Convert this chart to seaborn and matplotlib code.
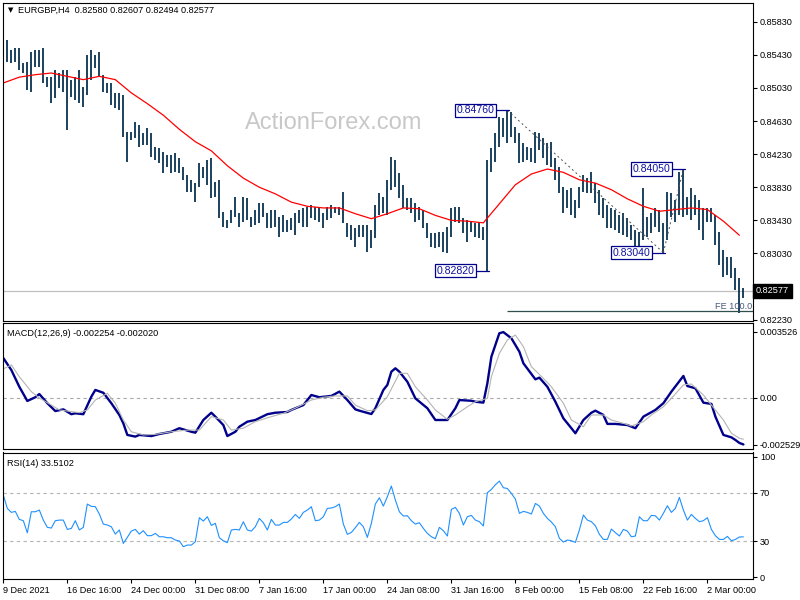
import numpy as np
import pandas as pd
import matplotlib
matplotlib.use("Agg")
import matplotlib.pyplot as plt
import matplotlib.transforms as mtransforms
import seaborn as sns

# ---------------- data ----------------
# H4 bars, two source bars merged per entry
high = [
    0.8586, 0.8561, 0.8549, 0.8551, 0.8551, 0.8533, 0.8534, 0.8546, 0.8549, 0.8549,
    0.8551, 0.8516, 0.8516, 0.8525, 0.8521, 0.8525, 0.8525, 0.8513, 0.8516, 0.8525,
    0.8504, 0.8543, 0.8549, 0.8543, 0.8546, 0.8519, 0.8509, 0.8509, 0.8497, 0.8497,
    0.8494, 0.8450, 0.8450, 0.8462, 0.8458, 0.8449, 0.8455, 0.8449, 0.8432, 0.8430,
    0.8426, 0.8422, 0.8422, 0.8424, 0.8418, 0.8408, 0.8398, 0.8392, 0.8388, 0.8412,
    0.8408, 0.8416, 0.8418, 0.8389, 0.8392, 0.8353, 0.8343, 0.8356, 0.8371, 0.8352,
    0.8371, 0.8370, 0.8347, 0.8356, 0.8364, 0.8364, 0.8352, 0.8356, 0.8356, 0.8347,
    0.8350, 0.8343, 0.8346, 0.8352, 0.8356, 0.8358, 0.8359, 0.8362, 0.8359, 0.8358,
    0.8352, 0.8359, 0.8362, 0.8359, 0.8359, 0.8377, 0.8340, 0.8337, 0.8334, 0.8337,
    0.8337, 0.8337, 0.8331, 0.8362, 0.8376, 0.8371, 0.8392, 0.8420, 0.8416, 0.8400,
    0.8386, 0.8370, 0.8370, 0.8364, 0.8359, 0.8356, 0.8340, 0.8328, 0.8328, 0.8329,
    0.8329, 0.8335, 0.8358, 0.8359, 0.8359, 0.8346, 0.8343, 0.8341, 0.8340, 0.8340,
    0.8335, 0.8416, 0.8430, 0.8449, 0.8468, 0.8467, 0.8476, 0.8474, 0.8456, 0.8449,
    0.8437, 0.8432, 0.8430, 0.8450, 0.8449, 0.8443, 0.8437, 0.8438, 0.8418, 0.8408,
    0.8383, 0.8380, 0.8382, 0.8368, 0.8383, 0.8398, 0.8394, 0.8401, 0.8388, 0.8380,
    0.8370, 0.8362, 0.8358, 0.8356, 0.8350, 0.8352, 0.8346, 0.8337, 0.8331, 0.8329,
    0.8382, 0.8347, 0.8352, 0.8358, 0.8356, 0.8340, 0.8377, 0.8376, 0.8368, 0.8401,
    0.8405, 0.8371, 0.8382, 0.8374, 0.8368, 0.8358, 0.8358, 0.8358, 0.8350, 0.8329,
    0.8307, 0.8299, 0.8299, 0.8286, 0.8273, 0.8261]
low = [
    0.8561, 0.8534, 0.8533, 0.8534, 0.8525, 0.8521, 0.8500, 0.8498, 0.8528, 0.8528,
    0.8509, 0.8504, 0.8485, 0.8491, 0.8503, 0.8498, 0.8452, 0.8492, 0.8488, 0.8485,
    0.8480, 0.8494, 0.8513, 0.8527, 0.8516, 0.8498, 0.8497, 0.8482, 0.8479, 0.8476,
    0.8444, 0.8414, 0.8440, 0.8443, 0.8432, 0.8434, 0.8434, 0.8420, 0.8416, 0.8412,
    0.8400, 0.8408, 0.8400, 0.8401, 0.8400, 0.8392, 0.8377, 0.8377, 0.8365, 0.8383,
    0.8394, 0.8386, 0.8370, 0.8371, 0.8346, 0.8335, 0.8334, 0.8340, 0.8347, 0.8335,
    0.8341, 0.8343, 0.8335, 0.8337, 0.8340, 0.8347, 0.8334, 0.8334, 0.8335, 0.8323,
    0.8329, 0.8329, 0.8331, 0.8325, 0.8340, 0.8335, 0.8335, 0.8346, 0.8343, 0.8341,
    0.8334, 0.8343, 0.8346, 0.8352, 0.8350, 0.8340, 0.8323, 0.8319, 0.8311, 0.8323,
    0.8323, 0.8305, 0.8310, 0.8322, 0.8350, 0.8352, 0.8350, 0.8380, 0.8383, 0.8370,
    0.8358, 0.8356, 0.8352, 0.8341, 0.8343, 0.8334, 0.8322, 0.8311, 0.8310, 0.8311,
    0.8305, 0.8304, 0.8323, 0.8341, 0.8340, 0.8328, 0.8317, 0.8329, 0.8323, 0.8322,
    0.8319, 0.8282, 0.8401, 0.8414, 0.8432, 0.8444, 0.8437, 0.8444, 0.8437, 0.8412,
    0.8414, 0.8416, 0.8414, 0.8412, 0.8428, 0.8418, 0.8410, 0.8408, 0.8392, 0.8376,
    0.8352, 0.8358, 0.8350, 0.8346, 0.8358, 0.8377, 0.8376, 0.8376, 0.8364, 0.8350,
    0.8346, 0.8334, 0.8334, 0.8331, 0.8328, 0.8325, 0.8323, 0.8319, 0.8310, 0.8307,
    0.8319, 0.8323, 0.8328, 0.8335, 0.8329, 0.8304, 0.8319, 0.8347, 0.8341, 0.8350,
    0.8347, 0.8350, 0.8343, 0.8350, 0.8331, 0.8319, 0.8341, 0.8341, 0.8313, 0.8289,
    0.8275, 0.8277, 0.8273, 0.8259, 0.8231, 0.8249]

# moving average, one reading every 4 bars
ma_step = 4
ma = [0.8509, 0.8516, 0.8519, 0.8521, 0.8517, 0.8513, 0.8517, 0.8513, 0.8497, 0.8484,
      0.8470, 0.8453, 0.8438, 0.8427, 0.8409, 0.8394, 0.8383, 0.8375, 0.8365, 0.8360,
      0.8358, 0.8358, 0.8351, 0.8345, 0.8351, 0.8358, 0.8357, 0.8349, 0.8343, 0.8342,
      0.8340, 0.8363, 0.8386, 0.8399, 0.8405, 0.8401, 0.8392, 0.8388, 0.8380, 0.8369,
      0.8360, 0.8354, 0.8356, 0.8358, 0.8356, 0.8342, 0.8325]

# MACD main line
macd_bar = [0, 2, 4, 6, 8, 9, 11, 13, 15, 17, 18, 20, 22, 23, 25, 27, 29, 30, 31, 33,
            34, 37, 39, 42, 44, 47, 48, 50, 52, 53, 55, 56, 58, 59, 61, 63, 66, 68, 71, 72,
            75, 77, 79, 82, 84, 86, 88, 89, 92, 93, 95, 96, 97, 98, 99, 101, 103, 106, 108, 111,
            113, 114, 117, 118, 120, 121, 122, 124, 125, 127, 129, 130, 133, 134, 136, 138, 140, 142, 143, 145,
            147, 148, 150, 151, 153, 156, 158, 160, 163, 165, 167, 170, 171, 173, 175, 177, 178, 180, 182, 183,
            184, 185]
macd_main = [0.00213, 0.00149, 0.00059, -0.00017, 0.00003, 0.00020, -0.00029, -0.00071, -0.00062, -0.00088,
             -0.00083, -0.00088, 0.00006, 0.00042, 0.00027, -0.00029, -0.00092, -0.00137, -0.00199, -0.00208,
             -0.00199, -0.00205, -0.00194, -0.00182, -0.00163, -0.00182, -0.00187, -0.00119, -0.00080, -0.00101,
             -0.00146, -0.00205, -0.00182, -0.00155, -0.00128, -0.00119, -0.00088, -0.00080, -0.00076, -0.00065,
             -0.00039, 0.00015, 0.00003, 0.00010, 0.00033, -0.00012, -0.00062, -0.00069, -0.00087, -0.00056,
             0.00042, 0.00069, 0.00140, 0.00158, 0.00140, 0.00086, -0.00003, -0.00056, -0.00119, -0.00119,
             -0.00056, -0.00012, -0.00016, -0.00021, -0.00026, 0.00078, 0.00220, 0.00346, 0.00352, 0.00319,
             0.00247, 0.00185, 0.00099, 0.00108, 0.00059, -0.00021, -0.00110, -0.00163, -0.00190, -0.00119,
             -0.00080, -0.00069, -0.00092, -0.00140, -0.00140, -0.00146, -0.00163, -0.00101, -0.00065, -0.00029,
             0.00033, 0.00117, 0.00063, 0.00051, -0.00026, -0.00033, -0.00101, -0.00199, -0.00212, -0.00226,
             -0.00242, -0.00250]

# MACD signal line
sig_bar = [0, 2, 4, 7, 9, 12, 14, 17, 19, 21, 23, 26, 28, 30, 32, 35, 38, 42, 46, 49,
           52, 55, 57, 60, 63, 67, 70, 73, 77, 80, 83, 86, 88, 91, 93, 96, 99, 101, 103, 106,
           108, 111, 113, 116, 118, 121, 122, 124, 126, 128, 130, 132, 135, 137, 140, 142, 145, 147, 150, 152,
           155, 157, 160, 162, 165, 167, 170, 172, 175, 177, 180, 182, 184, 185]
macd_signal = [0.00155, 0.00176, 0.00113, 0.00033, -0.00001, -0.00039, -0.00065, -0.00074, -0.00080, -0.00065,
               -0.00012, 0.00024, -0.00029, -0.00119, -0.00182, -0.00199, -0.00196, -0.00182, -0.00173, -0.00173,
               -0.00101, -0.00119, -0.00173, -0.00163, -0.00128, -0.00101, -0.00083, -0.00056, -0.00012, 0.00003,
               0.00010, 0.00010, -0.00039, -0.00069, -0.00065, 0.00006, 0.00131, 0.00131, 0.00059, -0.00012,
               -0.00065, -0.00115, -0.00092, -0.00048, -0.00021, -0.00003, 0.00113, 0.00238, 0.00310, 0.00336,
               0.00274, 0.00167, 0.00104, 0.00059, -0.00029, -0.00119, -0.00155, -0.00092, -0.00092, -0.00119,
               -0.00137, -0.00151, -0.00128, -0.00092, -0.00048, -0.00003, 0.00069, 0.00074, 0.00015, -0.00039,
               -0.00119, -0.00190, -0.00217, -0.00222]

# RSI(14), one reading per bar
rsi = [68.1, 57.1, 53.8, 54.6, 48.0, 46.9, 36.9, 54.3, 54.3, 55.7,
       47.4, 41.4, 40.8, 46.9, 47.4, 47.4, 39.7, 40.5, 46.9, 39.2,
       41.4, 60.7, 58.8, 58.5, 52.4, 44.1, 43.3, 41.9, 35.8, 39.2,
       28.1, 33.1, 38.3, 39.7, 35.8, 38.6, 34.5, 34.5, 36.4, 33.6,
       33.6, 32.8, 32.8, 30.9, 30.1, 25.4, 26.7, 26.7, 29.5, 49.4,
       46.6, 50.2, 43.0, 44.7, 32.8, 30.3, 28.7, 39.2, 39.7, 39.2,
       46.0, 39.2, 38.3, 41.9, 48.8, 45.2, 39.2, 48.0, 43.3, 43.3,
       45.5, 45.5, 48.3, 52.1, 48.8, 53.8, 55.7, 58.5, 46.9, 47.4,
       50.2, 57.1, 57.4, 58.5, 60.7, 44.1, 35.6, 37.2, 41.1, 45.5,
       41.9, 33.1, 44.7, 60.7, 65.9, 59.0, 66.8, 75.6, 64.0, 54.3,
       50.8, 51.0, 46.9, 44.1, 45.2, 40.5, 36.4, 33.6, 32.0, 41.4,
       38.6, 34.2, 56.3, 57.9, 53.0, 43.3, 50.2, 51.3, 47.4, 46.1,
       42.5, 70.1, 72.8, 76.7, 79.7, 74.2, 73.6, 69.5, 64.8, 53.0,
       54.6, 53.8, 52.4, 61.2, 59.0, 53.0, 48.8, 45.8, 41.9, 32.3,
       29.2, 30.9, 30.3, 28.9, 39.2, 51.6, 47.4, 46.1, 42.7, 35.6,
       31.4, 31.4, 40.0, 37.0, 34.2, 39.7, 38.3, 33.6, 34.2, 50.2,
       46.9, 46.9, 51.3, 51.0, 47.4, 53.0, 59.3, 53.8, 57.1, 66.2,
       55.7, 47.4, 52.1, 48.8, 46.1, 46.9, 49.4, 39.7, 34.5, 31.4,
       31.4, 33.9, 30.3, 31.4, 33.4, 33.5]

header_ohlc = [0.82580, 0.82607, 0.82494, 0.82577]
last_close = 0.82577
macd_header = [-0.002254, -0.002020]
rsi_header = 33.5102

# swing points: (price, bar)
swing_high_a = (0.84760, 126)
swing_low_a = (0.82820, 121)
swing_low_b = (0.83040, 165)
swing_high_b = (0.84050, 170)
fe_level = 0.82330

price_ticks = [0.85830, 0.85430, 0.85030, 0.84630, 0.84230, 0.83830, 0.83430, 0.83030, 0.82630, 0.82230]
macd_ticks = [0.003526, 0.0, -0.002529]
macd_tick_labels = ["0.003526", "0.00", "-0.002529"]
rsi_ticks = [100, 70, 30, 0]

date_bars = [0, 16, 32, 48, 64, 80, 96, 112, 128, 144, 160, 176]
date_labels = ["9 Dec 2021", "16 Dec 16:00", "24 Dec 00:00", "31 Dec 08:00", "7 Jan 16:00",
               "17 Jan 00:00", "24 Jan 08:00", "31 Jan 16:00", "8 Feb 00:00", "15 Feb 08:00",
               "22 Feb 16:00", "2 Mar 00:00"]

# ---------------- drawing ----------------
sns.set_theme(style="white")
plt.rcParams['font.family'] = ['Liberation Sans', 'DejaVu Sans']

W, H = 800, 600
fig = plt.figure(figsize=(8, 6), dpi=100)
fig.patch.set_facecolor("white")


def panel(top, bottom, left=3, right=753):
    return fig.add_axes([left / W, 1 - bottom / H, (right - left) / W, (bottom - top) / H])


ax1 = panel(3, 321)
ax2 = panel(323, 449)
ax3 = panel(452.5, 579)

bars = np.arange(len(high))
xmin, xmax = -0.08, 187.4
small = 6.6
navy = "#00008b"

for ax in (ax1, ax2, ax3):
    ax.set_facecolor("white")
    ax.set_xlim(xmin, xmax)
    for s in ax.spines.values():
        s.set_color("black")
        s.set_linewidth(0.8)
    ax.yaxis.tick_right()
    ax.tick_params(axis="y", which="both", left=False, right=True, direction="out",
                   length=3, width=0.8, pad=2, labelsize=small, colors="black")
    ax.grid(False)

# price panel
ax1.vlines(bars, low, high, color="#0a3352", linewidth=1.3)
ma_df = pd.DataFrame({"bar": np.arange(len(ma)) * ma_step, "ma": ma})
sns.lineplot(data=ma_df, x="bar", y="ma", ax=ax1, color="red", linewidth=0.9)
ax1.axhline(last_close, color="#c0c0c0", linewidth=0.9, zorder=0.5)
ax1.set_ylim(0.82214, 0.86056)
ax1.set_yticks(price_ticks)
ax1.set_yticklabels([f"{v:.5f}" for v in price_ticks])

# fibonacci expansion
dash = (0, (2, 3))
ax1.plot([swing_high_a[1], swing_low_b[1]], [swing_high_a[0], swing_low_b[0]],
         color="#505050", linewidth=0.7, linestyle=dash)
ax1.plot([swing_low_b[1], swing_high_b[1]], [swing_low_b[0], swing_high_b[0]],
         color="#505050", linewidth=0.7, linestyle=dash)
ax1.hlines(fe_level, swing_high_a[1], xmax, color="#2f4f4f", linewidth=0.9)
ax1.text(xmax - 0.3, fe_level + 0.0001, "FE 100.0", ha="right", va="bottom",
         fontsize=small, color="#4a5878")

for price, bar in (swing_high_a, swing_low_a, swing_high_b, swing_low_b):
    ax1.plot([bar - 2.9, bar + 0.3], [price, price], color=navy, linewidth=0.9)
    ax1.text(bar - 3.3, price, f"{price:.5f}", ha="right", va="center", fontsize=7.6,
             color="#1010a0",
             bbox=dict(boxstyle="square,pad=0.15", fc="white", ec=navy, lw=0.9), zorder=6)

# current price tag sits on top of the 0.82630 axis label, as on the chart
tag_tr = mtransforms.blended_transform_factory(ax1.transAxes, ax1.transData)
ax1.text(1.004, last_close, f"{last_close:.5f}", transform=tag_tr, ha="left", va="center",
         fontsize=small, color="white", clip_on=False, zorder=10,
         bbox=dict(boxstyle="square,pad=0.3", fc="black", ec="black"))

# MACD panel
sns.lineplot(x=macd_bar, y=macd_main, ax=ax2, color=navy, linewidth=1.7)
sns.lineplot(x=sig_bar, y=macd_signal, ax=ax2, color="#b4b4b4", linewidth=0.8)
ax2.axhline(0, color="#a8a8a8", linewidth=0.8, linestyle=(0, (3, 3)), zorder=0.5)
ax2.set_ylim(-0.002744, 0.004008)
ax2.set_yticks(macd_ticks)
ax2.set_yticklabels(macd_tick_labels)

# RSI panel
sns.lineplot(x=bars, y=rsi, ax=ax3, color="#1e90ff", linewidth=0.8)
for lvl in (70, 30):
    ax3.axhline(lvl, color="#b4b4b4", linewidth=0.8, linestyle=(0, (3, 3)), zorder=0.5)
ax3.set_ylim(-1.4, 103.4)
ax3.set_yticks(rsi_ticks)
ax3.set_yticklabels([str(v) for v in rsi_ticks])

for ax in (ax1, ax2, ax3):
    ax.set_xlabel("")
    ax.set_ylabel("")
    ax.set_xlim(xmin, xmax)

ax1.tick_params(axis="x", bottom=False, labelbottom=False)
ax2.tick_params(axis="x", bottom=False, labelbottom=False)
ax3.set_xticks(date_bars)
ax3.set_xticklabels(date_labels, ha="left")
ax3.tick_params(axis="x", bottom=True, direction="out", length=3, width=0.8, pad=2,
                labelsize=small, colors="black")

# header texts and watermark
fig.text(7.5 / W, 1 - 10.5 / H, "\u25bc", fontsize=5, va="center", color="black",
         family=["DejaVu Sans"])
fig.text(18 / W, 1 - 10.5 / H, "EURGBP,H4  " + " ".join(f"{v:.5f}" for v in header_ohlc),
         fontsize=small, va="center", color="black")
fig.text(7 / W, 1 - 333.5 / H, "MACD(12,26,9) " + " ".join(f"{v:.6f}" for v in macd_header),
         fontsize=small, va="center", color="black")
fig.text(7 / W, 1 - 463 / H, f"RSI(14) {rsi_header:.4f}", fontsize=small, va="center", color="black")
fig.text(245 / W, 1 - 123 / H, "ActionForex.com", fontsize=17, va="center", color="#c8c8c8")

fig.savefig("out.png", dpi=100, facecolor="white")
